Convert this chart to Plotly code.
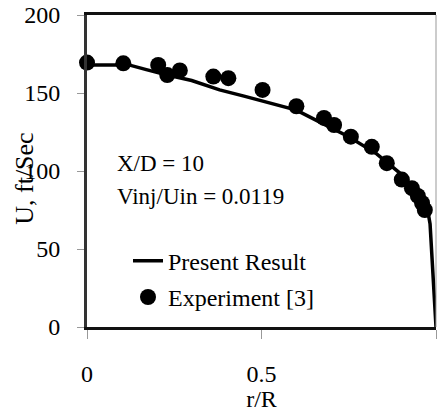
import plotly.graph_objects as go

# Experimental data (Experiment [3])
exp_r = [0.0, 0.104, 0.204, 0.23, 0.266, 0.362, 0.405, 0.503, 0.60, 0.679, 0.708, 0.756,
         0.816, 0.859, 0.902, 0.931, 0.948, 0.960, 0.968]
exp_u = [169.5, 169, 168, 161.5, 164.5, 160.5, 159.5, 152, 141.5, 134, 129.5, 122,
         115.5, 105, 94.5, 89, 84, 79.5, 75]

# Present result (computed profile)
line_r = [0.0, 0.12, 0.17, 0.23, 0.30, 0.34, 0.38, 0.45, 0.50, 0.60, 0.67, 0.75,
          0.83, 0.90, 0.95, 0.973, 0.983, 0.992, 1.0]
line_u = [168, 168, 165, 161.5, 158, 155, 152, 148, 145, 139, 131, 122,
          111, 98, 86, 79, 66, 35, 0]

x_ticks = [0, 0.5, 1]
x_ticklabels = ["0", "0.5", "1"]
y_ticks = [0, 50, 100, 150, 200]

FONT = "Liberation Serif"

fig = go.Figure()
fig.add_trace(go.Scatter(
    x=line_r, y=line_u, mode="lines", name="Present Result",
    line=dict(color="black", width=3.5), legendgroup="a", cliponaxis=False,
))
fig.add_trace(go.Scatter(
    x=exp_r, y=exp_u, mode="markers", name="Experiment [3]",
    marker=dict(color="black", size=16), legendgroup="b", cliponaxis=False,
))

fig.update_layout(
    width=437, height=412,
    margin=dict(l=87, r=1, t=15, b=85),
    paper_bgcolor="white", plot_bgcolor="white",
    font=dict(family=FONT, size=24, color="black"),
    showlegend=True,
    legend=dict(x=0.1175, y=0.283, xanchor="left", yanchor="top",
                bgcolor="rgba(0,0,0,0)", font=dict(family=FONT, size=24),
                tracegroupgap=2),
    xaxis=dict(range=[0, 1], tickvals=x_ticks, ticktext=x_ticklabels,
               showgrid=False, zeroline=False, showline=True, linewidth=3,
               linecolor="#111", mirror=True, ticks="outside", ticklen=9,
               tickcolor="#999", tickwidth=1, ticklabelstandoff=14,
               tickfont=dict(family=FONT, size=24),
               title=dict(text="r/R", standoff=4, font=dict(family=FONT, size=24))),
    yaxis=dict(range=[0, 200], tickvals=y_ticks, showgrid=False, zeroline=False,
               showline=True, linewidth=3, linecolor="#333", ticks="outside",
               ticklen=7, tickcolor="#999", tickwidth=1, ticklabelstandoff=12,
               tickfont=dict(family=FONT, size=24)),
    annotations=[
        dict(text="X/D = 10", xref="paper", yref="paper", x=0.08, y=0.5256,
             xanchor="left", yanchor="middle", showarrow=False,
             font=dict(family=FONT, size=23)),
        dict(text="Vinj/Uin = 0.0119", xref="paper", yref="paper", x=0.08, y=0.4167,
             xanchor="left", yanchor="middle", showarrow=False,
             font=dict(family=FONT, size=23)),
        dict(text="U, ft/Sec", xref="paper", yref="paper", x=-0.1777, y=0.475,
             xanchor="center", yanchor="middle", textangle=-90, showarrow=False,
             font=dict(family=FONT, size=26)),
    ],
    shapes=[
        dict(type="line", xref="paper", yref="paper", x0=1, x1=1, y0=0, y1=1,
             line=dict(color="#999", width=1)),
    ],
)

fig.write_html("out.html", config={"displayModeBar": False},
               post_script="document.body.style.margin='0';document.body.style.padding='0';")
